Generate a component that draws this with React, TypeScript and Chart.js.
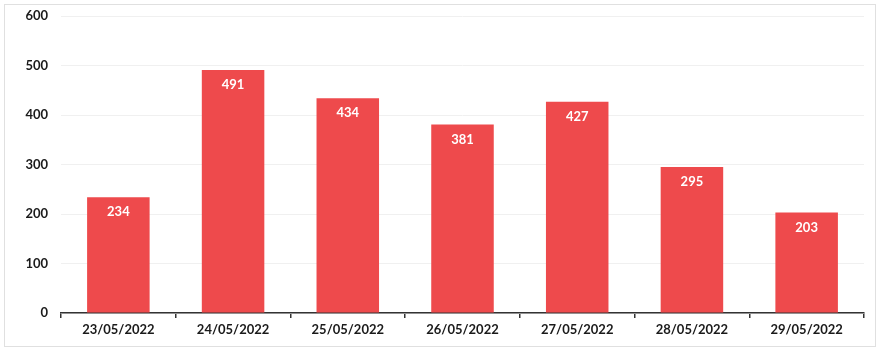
import React, { useEffect, useRef } from "react";
import { Chart, registerables } from "chart.js";

Chart.register(...registerables);

const categories = ["23/05/2022", "24/05/2022", "25/05/2022", "26/05/2022", "27/05/2022", "28/05/2022", "29/05/2022"];
const values = [234, 491, 434, 381, 427, 295, 203];
const yTicks = [0, 100, 200, 300, 400, 500, 600];

const FONT = "Lato, 'Open Sans', sans-serif";

const labelPlugin = {
  id: "barLabels",
  afterDatasetsDraw(chart: any) {
    const ctx = chart.ctx;
    const meta = chart.getDatasetMeta(0);
    ctx.save();
    ctx.fillStyle = "#ffffff";
    ctx.font = `bold 13px ${FONT}`;
    ctx.textAlign = "center";
    ctx.textBaseline = "middle";
    meta.data.forEach((bar: any, i: number) => {
      ctx.fillText(String(values[i]), bar.x, bar.y + 15);
    });
    ctx.restore();
  },
};

export default function App() {
  const ref = useRef<HTMLCanvasElement>(null);
  useEffect(() => {
    if (!ref.current) return;
    const chart = new Chart(ref.current, {
      type: "bar",
      data: {
        labels: categories,
        datasets: [
          {
            data: values,
            backgroundColor: "#EE4A4C",
            borderWidth: 0,
            categoryPercentage: 1,
            barPercentage: 0.545,
          },
        ],
      },
      options: {
        animation: false,
        responsive: false,
        maintainAspectRatio: false,
        layout: { padding: { top: 11, right: 11, bottom: 0, left: 0 } },
        plugins: { legend: { display: false }, tooltip: { enabled: false } },
        scales: {
          x: {
            afterFit: (s: any) => { s.height = 33; s.paddingLeft = 0; s.paddingRight = 0; },
            grid: { drawOnChartArea: false, drawTicks: true, tickLength: 5, color: "#333333", lineWidth: 1.5 },
            border: { display: true, color: "#333333", width: 1.5 },
            ticks: { color: "#1a1a1a", padding: 4, font: { family: FONT, size: 13, weight: "bold" } },
          },
          y: {
            min: 0,
            max: 600,
            afterFit: (s: any) => { s.width = 56; s.paddingTop = 0; s.paddingBottom = 0; },
            afterBuildTicks: (s: any) => { s.ticks = yTicks.map((v) => ({ value: v })); },
            grid: { color: "#f0f0f0", lineWidth: 1, drawTicks: false },
            border: { display: false },
            ticks: { color: "#1a1a1a", padding: 13, font: { family: FONT, size: 13, weight: "bold" } },
          },
        },
      },
      plugins: [labelPlugin],
    });
    return () => chart.destroy();
  }, []);
  return (
    <div style={{ position: "absolute", left: 4, top: 4, width: 870, height: 341, border: "1px solid #e0e0e0", background: "#fff" }}>
      <canvas ref={ref} width={870} height={341} style={{ display: "block" }} />
    </div>
  );
}
